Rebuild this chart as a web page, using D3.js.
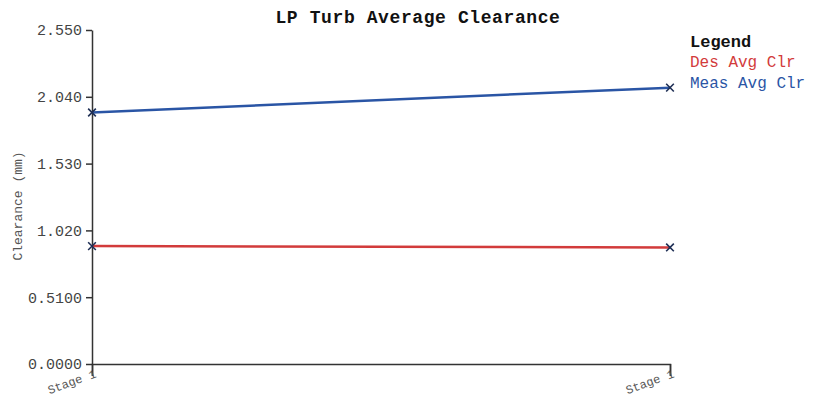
<!DOCTYPE html>
<html>
<head>
<meta charset="utf-8">
<script src="https://cdn.jsdelivr.net/npm/d3@7"></script>
<style>
  body { margin: 0; background: #fff; }
  text { font-family: "Liberation Mono", "DejaVu Sans Mono", monospace; }
</style>
</head>
<body>
<div id="chart"></div>
<script>
const stages = ["Stage 1", "Stage 1 "];
const desAvgClr = [0.90, 0.89];
const measAvgClr = [1.92, 2.11];
const yTickValues = [0, 0.51, 1.02, 1.53, 2.04, 2.55];
const yTickLabels = ["0.0000", "0.5100", "1.020", "1.530", "2.040", "2.550"];
const seriesNames = ["Des Avg Clr", "Meas Avg Clr"];
const seriesColors = ["#d23b3b", "#2a55a5"];

const width = 814;
const height = 398;
const margin = {top: 30, right: 144, bottom: 34, left: 92};

const x = d3.scalePoint().domain(stages).range([margin.left, width - margin.right]);
const y = d3.scaleLinear().domain([0, 2.55]).range([height - margin.bottom, margin.top]);

const svg = d3.select("#chart")
    .append("svg")
    .attr("width", width)
    .attr("height", height);

// title
svg.append("text")
    .attr("x", 418)
    .attr("y", 23)
    .attr("text-anchor", "middle")
    .attr("font-size", 18)
    .attr("font-weight", "bold")
    .attr("letter-spacing", 0.6)
    .attr("fill", "#111")
    .text("LP Turb Average Clearance");

// y axis
const yAxis = svg.append("g")
    .attr("transform", `translate(${margin.left},0)`)
    .call(d3.axisLeft(y).tickValues(yTickValues).tickFormat((d, i) => yTickLabels[i]).tickSizeOuter(0));
yAxis.select(".domain").attr("stroke", "#333").attr("stroke-width", 1.5);
yAxis.selectAll(".tick line").attr("stroke", "#333").attr("stroke-width", 1.5);
yAxis.selectAll(".tick text").attr("font-size", 15).attr("fill", "#444")
    .attr("font-family", "Liberation Mono, monospace")
    .attr("x", -10);

// x axis
const xAxis = svg.append("g")
    .attr("transform", `translate(0,${height - margin.bottom})`)
    .call(d3.axisBottom(x).tickSizeOuter(0).tickSize(12));
xAxis.select(".domain").attr("stroke", "#333").attr("stroke-width", 1.5);
xAxis.selectAll(".tick line").attr("stroke", "#333").attr("stroke-width", 1.5);
xAxis.selectAll(".tick text")
    .attr("font-size", 12)
    .attr("fill", "#555")
    .attr("font-family", "Liberation Mono, monospace")
    .attr("text-anchor", "end")
    .attr("x", 0)
    .attr("y", 0)
    .attr("dy", "0.35em")
    .attr("transform", "translate(3,9) rotate(-20)");

// y axis label
svg.append("text")
    .attr("transform", `translate(22,206) rotate(-90)`)
    .attr("text-anchor", "middle")
    .attr("font-size", 13)
    .attr("fill", "#555")
    .text("Clearance (mm)");

// lines
const series = [desAvgClr, measAvgClr];
const line = d3.line().x((d, i) => x(stages[i])).y(d => y(d));

series.forEach((vals, k) => {
    svg.append("path")
        .datum(vals)
        .attr("fill", "none")
        .attr("stroke", seriesColors[k])
        .attr("stroke-width", 2.5)
        .attr("d", line);

    svg.append("g")
        .selectAll("path")
        .data(vals)
        .join("path")
        .attr("d", d3.symbol(d3.symbolX, 40))
        .attr("transform", (d, i) => `translate(${x(stages[i])},${y(d)})`)
        .attr("fill", "none")
        .attr("stroke", "#1f2f55")
        .attr("stroke-width", 1.6);
});

// legend
const legend = svg.append("g").attr("transform", "translate(690,0)");
legend.append("text")
    .attr("y", 47)
    .attr("font-size", 17)
    .attr("font-weight", "bold")
    .attr("fill", "#111")
    .text("Legend");
legend.selectAll(".item")
    .data(seriesNames)
    .join("text")
    .attr("class", "item")
    .attr("y", (d, i) => 67 + i * 21)
    .attr("font-size", 16)
    .attr("fill", (d, i) => seriesColors[i])
    .text(d => d);
</script>
</body>
</html>
